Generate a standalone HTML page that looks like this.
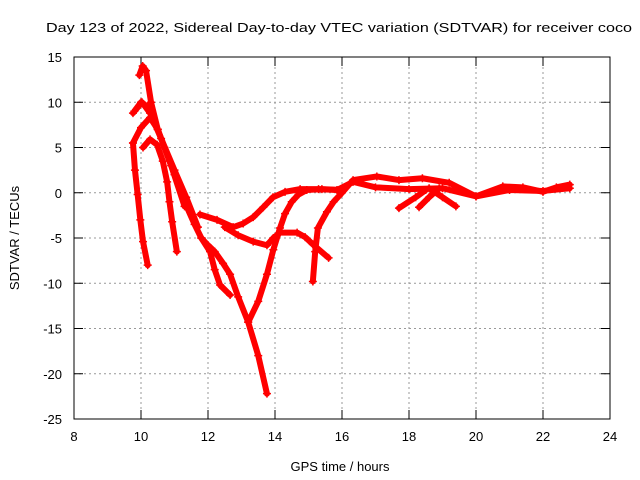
<!DOCTYPE html>
<html><head><meta charset="utf-8"><style>
html,body{margin:0;padding:0;background:#fff}
svg{display:block;font-family:"Liberation Sans",sans-serif}
</style></head><body>
<svg id="chart" width="640" height="480" viewBox="0 0 640 480">
<text x="339" y="32" font-size="13" text-anchor="middle" textLength="586" lengthAdjust="spacingAndGlyphs">Day 123 of 2022, Sidereal Day-to-day VTEC variation (SDTVAR) for receiver coco</text>
<g id="grid"></g>
<g id="axes"></g>
<g id="series"></g>
<rect x="74" y="57" width="536" height="362" fill="none" stroke="#000" stroke-width="1"/>
<text transform="translate(19,238) rotate(-90)" font-size="13" text-anchor="middle">SDTVAR / TECUs</text>
<text x="340" y="471" font-size="13" text-anchor="middle">GPS time / hours</text>
</svg>
<script>
const xTicks=[8,10,12,14,16,18,20,22,24];
const yTicks=[15,10,5,0,-5,-10,-15,-20,-25];
const track1=[[9.8,9],[10.0,10],[10.2,9.5],[10.4,8],[10.7,5],[11,2],[11.3,-1],[11.6,-3.5],[11.8,-5],[12.0,-5.8],[12.2,-6.5],[12.45,-7.8],[12.66,-9],[12.9,-11.5],[13.2,-14.3],[13.5,-18],[13.76,-22.2]];
const track2=[[11.8,-5],[12.06,-6.5],[12.2,-8.5],[12.36,-10.2],[12.66,-11.3]];
const track3=[[13.2,-14.3],[13.5,-12],[13.76,-9],[13.95,-6.3],[14.15,-3.9],[14.3,-2.3],[14.5,-1],[14.7,-0.2],[14.95,0.3],[15.4,0.4],[16,0.3]];
const track4=[[11.76,-2.4],[12.27,-3],[12.75,-3.8],[13.05,-3.4],[13.35,-2.7],[13.65,-1.6],[13.94,-0.5],[14.3,0.1],[14.75,0.4],[15.3,0.4],[15.85,0.3],[16.33,1.2],[17,0.6],[18,0.4],[19,0.5],[20,-0.4],[21,0.3],[22,0.2],[22.8,0.5]];
const track5=[[12.5,-3.8],[12.9,-4.7],[13.35,-5.4],[13.76,-5.8],[13.95,-5],[14.15,-4.4],[14.66,-4.4],[14.9,-4.9],[15.13,-5.7],[15.6,-7.2]];
const track6=[[15.13,-9.8],[15.2,-6.5],[15.28,-3.9],[15.55,-2.1],[15.75,-1],[16.0,0],[16.33,1.4],[17.04,1.8],[17.7,1.4],[18.4,1.6],[19.2,1.1],[20,-0.4],[20.8,0.7],[21.4,0.6],[22,0.1],[22.4,0.6],[22.8,0.9]];
const track7=[[9.76,5.5],[9.82,2.5],[9.9,-0.2],[9.98,-3],[10.06,-5.4],[10.2,-8]];
const track8=[[10.06,5],[10.27,5.9],[10.48,5.3],[10.65,3.5],[10.78,1.2],[10.85,-1],[10.93,-3.2],[11.07,-6.5]];
const track9=[[9.76,8.8],[10.03,10],[10.27,8.8],[10.6,6],[11,2.5],[11.35,-0.5],[11.7,-3.8]];
const track10=[[9.95,13],[10.05,14],[10.15,13.5],[10.3,10],[10.5,7],[10.9,3],[11.3,-1.5]];
const track11=[[17.7,-1.7],[18.2,-0.5],[18.5,0.3]];
const track12=[[18.3,-1.6],[18.6,-0.5],[18.9,0.5]];
const track13=[[18.6,0.5],[19,-0.5],[19.4,-1.5]];
const track14=[[9.76,5.5],[10.0,7.2],[10.27,8.3],[10.5,7]];
const tracks=[track1,track2,track3,track4,track5,track6,track7,track8,track9,track10,track11,track12,track13,track14];
const NS='http://www.w3.org/2000/svg';
const X=v=>74+(v-8)*536/16;
const Y=v=>57+(15-v)*362/40;
function mk(tag,attrs,parent){const e=document.createElementNS(NS,tag);for(const k in attrs)e.setAttribute(k,attrs[k]);parent.appendChild(e);return e;}
const grid=document.getElementById('grid'),axes=document.getElementById('axes'),ser=document.getElementById('series');
xTicks.forEach(t=>{
  const x=X(t);
  if(t>8&&t<24){const g=mk('line',{x1:x,x2:x,y1:57,y2:419,stroke:'#999','stroke-dasharray':'2,3'},grid);
  
  }
  mk('line',{x1:x,x2:x,y1:419,y2:410,stroke:'#000'},axes);
  mk('line',{x1:x,x2:x,y1:57,y2:66,stroke:'#000'},axes);
  const l=mk('text',{x:x,y:441,'font-size':13,'text-anchor':'middle'},axes);l.textContent=t;
  
  
});
yTicks.forEach(t=>{
  const y=Y(t);
  if(t<15&&t>-25){const g=mk('line',{x1:74,x2:610,y1:y,y2:y,stroke:'#999','stroke-dasharray':'2,3'},grid);
  
  }
  mk('line',{x1:74,x2:83,y1:y,y2:y,stroke:'#000'},axes);
  mk('line',{x1:601,x2:610,y1:y,y2:y,stroke:'#000'},axes);
  const l=mk('text',{x:62,y:y+5,'font-size':13,'text-anchor':'end'},axes);l.textContent=t;
  
  
});
tracks.forEach((tr,i)=>{
  const p=mk('polyline',{points:tr.map(d=>X(d[0])+','+Y(d[1])).join(' '),fill:'none',stroke:'#f00','stroke-width':6,'stroke-linejoin':'round','stroke-linecap':'round'},ser);
  
  
  tr.forEach(d=>{
    const x=X(d[0]),y=Y(d[1]);
    const m=mk('path',{d:`M${x-4},${y}H${x+4}M${x},${y-4}V${y+4}`,stroke:'#f00','stroke-width':1.5},ser);
    
    
  });
});
</script>
</body></html>
